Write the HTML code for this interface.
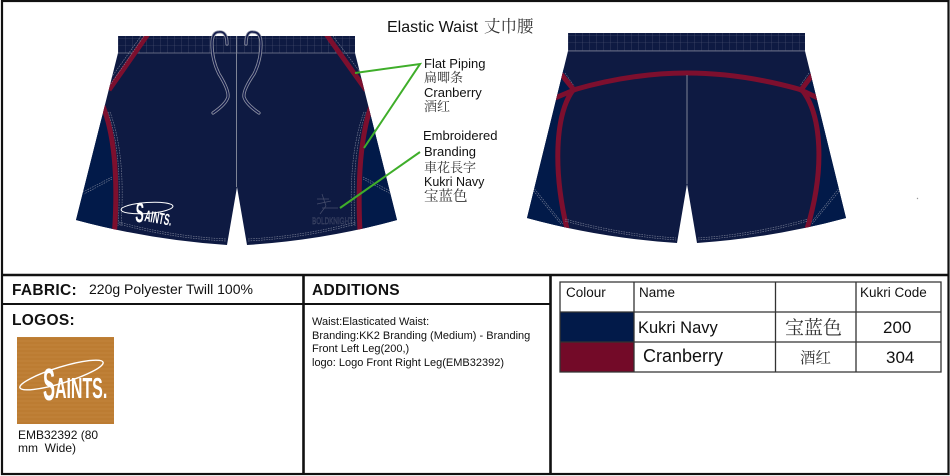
<!DOCTYPE html>
<html><head><meta charset="utf-8"><style>
html,body{margin:0;padding:0;background:#fff;width:950px;height:476px;overflow:hidden}
svg{display:block}
text{font-family:"Liberation Sans","Noto Sans CJK SC",sans-serif;fill:#111}
.cj{font-family:"Noto Serif CJK SC","Noto Sans CJK SC",serif;fill:#333}
.b{font-weight:bold;font-size:15.5px;letter-spacing:.3px}
.p{fill:none;stroke:#7d0f2e;stroke-width:5}
.s{fill:none;stroke:#7d8398;stroke-width:.6;stroke-dasharray:1.6 1}
.l{stroke:#111;fill:none}
</style></head><body>
<svg width="950" height="476" viewBox="0 0 950 476" xmlns="http://www.w3.org/2000/svg">
<defs>
<pattern id="g1" x="118" y="38" width="7" height="7.500" patternUnits="userSpaceOnUse"><path d="M0 0V7.500M0 0H7" stroke="#4f5674" stroke-width=".6" fill="none"/></pattern>
<pattern id="g2" x="568" y="35" width="7" height="7.500" patternUnits="userSpaceOnUse"><path d="M0 0V7.500M0 0H7" stroke="#4f5674" stroke-width=".6" fill="none"/></pattern>
<pattern id="w" width="97" height="4" patternUnits="userSpaceOnUse"><path d="M0 1H97" stroke="#c78a45" stroke-width="1"/></pattern>
<clipPath id="cf"><path d="M118 36H355V53L397 220Q325 240 247 245L237 187L227 245Q150 240 76 220L118 53Z"/></clipPath>
<clipPath id="cb"><path d="M568 33H805V51L846 218Q772 238 697 243L687 184L677 243Q600 238 527 218L568 51Z"/></clipPath>
</defs>

<!-- frame -->
<rect x="2" y="1" width="946.5" height="473" fill="none" stroke="#111" stroke-width="2.2"/>
<path class="l" stroke-width="2.6" d="M2 275H949M303.500 275V474M550.500 275V474"/>
<path class="l" stroke-width="2" d="M3 304H550"/>

<!-- FRONT SHORTS -->
<path d="M118 36H355V53L397 220Q325 240 247 245L237 187L227 245Q150 240 76 220L118 53Z" fill="#0e1a42"/>
<g clip-path="url(#cf)">
<path d="M104 110L70 225L116 235Q119 160 104 110Z" fill="#021a49"/>
<path d="M370 110L404 225L358 235Q355 160 370 110Z" fill="#021a49"/>
<rect x="118" y="36" width="237" height="17" fill="url(#g1)"/>
<path d="M118 53H355" stroke="#7c8296" stroke-width=".8"/>
<path class="p" d="M148 34L109 90"/>
<path class="p" d="M326 34L366 90"/>
<path class="p" d="M103 106Q120 150 114.500 232"/>
<path class="p" d="M371 106Q356 150 360 232"/>
<path class="s" d="M141 36L106 85M144 36L108 88"/>
<path class="s" d="M333 36L360 72"/>
<path class="s" d="M108 112Q123 155 118 226M110 112Q126 155 121 226"/>
<path class="s" d="M366 112Q351 155 355 226M364 112Q348 155 352 226"/>
<path class="s" d="M112 177L83 192M112 179L84 194"/>
<path class="s" d="M363 177L392 192M363 179L391 194"/>
<path class="s" d="M119 222Q170 236 226 239M119 224Q170 238 226 241"/>
<path class="s" d="M248 239Q305 236 356 222M248 241Q305 238 356 224"/>
</g>
<path d="M236.500 36V187" stroke="#7e8496" stroke-width="1"/>
<!-- drawstrings -->
<g fill="none" stroke-linecap="round">
<path d="M227 44Q227 31 219 32Q212 32 212 44Q212 60 219 74Q229 90 228 97Q226 104 213 113" stroke="#8c90a0" stroke-width="3.200"/>
<path d="M227 44Q227 31 219 32Q212 32 212 44Q212 60 219 74Q229 90 228 97Q226 104 213 113" stroke="#10194a" stroke-width="1.500"/>
<path d="M246 44Q246 31 253 32Q261 32 261 44Q261 60 254 74Q243 90 244 97Q246 104 259 113" stroke="#8c90a0" stroke-width="3.200"/>
<path d="M246 44Q246 31 253 32Q261 32 261 44Q261 60 254 74Q243 90 244 97Q246 104 259 113" stroke="#10194a" stroke-width="1.500"/>
</g>
<!-- front logo -->
<ellipse cx="147" cy="208" rx="26" ry="5.500" transform="rotate(-4 147 208)" fill="none" stroke="#fff" stroke-width="1"/>
<text x="135" y="222" transform="rotate(3 135 222) translate(135 222) scale(.45 1) translate(-135 -222)" font-size="28" font-weight="bold" style="fill:#fff">S</text>
<text x="144" y="221" transform="rotate(10 144 221) translate(144 221) scale(.52 1) translate(-144 -221)" font-size="16" font-weight="bold" style="fill:#fff">AINTS.</text>
<!-- embroidery -->
<g fill="none" stroke="#474e6c" stroke-width=".7">
<path d="M322 194L326 206M317 199H329M317 204L331 201M322 208L338 208M326 206L320 214"/>
</g>
<text x="312" y="224" font-size="9" style="fill:#0e1a42;stroke:#474e6c;stroke-width:.4" textLength="41" lengthAdjust="spacingAndGlyphs">BOLDKNIGHT</text>

<!-- BACK SHORTS -->
<path d="M568 33H805V51L846 218Q772 238 697 243L687 184L677 243Q600 238 527 218L568 51Z" fill="#0e1a42"/>
<g clip-path="url(#cb)">
<path d="M573 90C555 115 553 170 567 229L515 225L560 60Z" fill="#021a49"/>
<path d="M802 90C822 115 825 170 807 229L860 225L815 60Z" fill="#021a49"/>
<rect x="568" y="33" width="237" height="18" fill="url(#g2)"/>
<path d="M568 51H805" stroke="#7c8296" stroke-width=".8"/>
<path class="s" d="M533 187L563 224M532 189L561 224"/>
<path class="s" d="M840 187L810 224M841 189L812 224"/>
<path class="s" d="M565 73L574 86"/>
<path class="s" d="M809 73L800 86"/>
<path class="p" d="M561 74L574 90L555 98"/>
<path class="p" d="M813 74L801 90L820 99"/>
<path class="p" d="M573 90Q632 73 687 73Q742 73 802 90"/>
<path class="p" d="M573 90C555 115 553 170 567 229"/>
<path class="p" d="M802 90C822 115 825 170 807 229"/>
<path class="s" d="M565 219Q620 234 676 238M565 221Q620 236 676 240"/>
<path class="s" d="M698 238Q755 234 808 219M698 240Q755 236 808 221"/>
</g>
<path d="M687 75V184" stroke="#7e8496" stroke-width="1"/>
<circle cx="917.500" cy="198.500" r=".7" fill="#999"/>

<!-- connectors -->
<g stroke="#3fae2a" stroke-width="2" fill="none">
<path d="M355 73L420 64L364 148"/>
<path d="M420 152L340 208"/>
</g>

<!-- callouts -->
<text x="387" y="32" font-size="16">Elastic Waist</text>
<text x="484" y="32" font-size="16.500" class="cj">丈巾腰</text>
<text x="424" y="68" font-size="13">Flat Piping</text>
<text x="424" y="82" font-size="13" class="cj">扁唧条</text>
<text x="424" y="97" font-size="13">Cranberry</text>
<text x="424" y="111" font-size="13" class="cj">酒红</text>
<text x="423" y="140" font-size="13">Embroidered</text>
<text x="424" y="156" font-size="13">Branding</text>
<text x="424" y="172" font-size="13" class="cj">車花長字</text>
<text x="424" y="186" font-size="12.500">Kukri Navy</text>
<text x="424" y="201" font-size="14.500" class="cj">宝蓝色</text>

<!-- left panel -->
<text x="12" y="295" class="b">FABRIC:</text>
<text x="89" y="294" font-size="14">220g Polyester Twill 100%</text>
<text x="12" y="325" class="b">LOGOS:</text>
<rect x="17" y="337" width="97" height="87" fill="#bc7c32"/>
<rect x="17" y="337" width="97" height="87" fill="url(#w)" opacity=".5"/>
<ellipse cx="61.500" cy="375" rx="43.500" ry="8" transform="rotate(-17 61.500 375)" fill="none" stroke="#fff" stroke-width="1.400"/>
<text x="43" y="400" transform="translate(43 400) scale(.4 1) translate(-43 -400)" font-size="45" font-weight="bold" style="fill:#fff">S</text>
<text x="55" y="398" transform="translate(55 398) scale(.55 1) translate(-55 -398)" font-size="29" font-weight="bold" style="fill:#fff">AINTS.</text>
<text x="18" y="439" font-size="12">EMB32392 (80</text>
<text x="18" y="452" font-size="12" xml:space="preserve">mm  Wide)</text>

<!-- additions -->
<text x="312" y="295" class="b">ADDITIONS</text>
<text x="312" y="325" font-size="11">Waist:Elasticated Waist:</text>
<text x="312" y="339" font-size="11">Branding:KK2 Branding (Medium) - Branding</text>
<text x="312" y="352" font-size="11">Front Left Leg(200,)</text>
<text x="312" y="366" font-size="11">logo: Logo Front Right Leg(EMB32392)</text>

<!-- colour table -->
<rect x="560" y="312" width="74" height="30" fill="#021a49"/>
<rect x="560" y="342" width="74" height="30" fill="#730a28"/>
<path d="M560 282H941V372H560ZM634 282V372M775.500 282V372M856 282V372M560 312H941M560 342H941" fill="none" stroke="#333" stroke-width="1.300"/>
<text x="566" y="297" font-size="13.500">Colour</text>
<text x="639" y="297" font-size="13.500">Name</text>
<text x="860" y="297" font-size="13.500">Kukri Code</text>
<text x="638" y="333" font-size="16.500">Kukri Navy</text>
<text x="643" y="362" font-size="18">Cranberry</text>
<text x="785" y="334" font-size="19" class="cj">宝蓝色</text>
<text x="800" y="363" font-size="15.500" class="cj">酒红</text>
<text x="883" y="333" font-size="17">200</text>
<text x="886" y="363" font-size="17">304</text>
</svg>
</body></html>
